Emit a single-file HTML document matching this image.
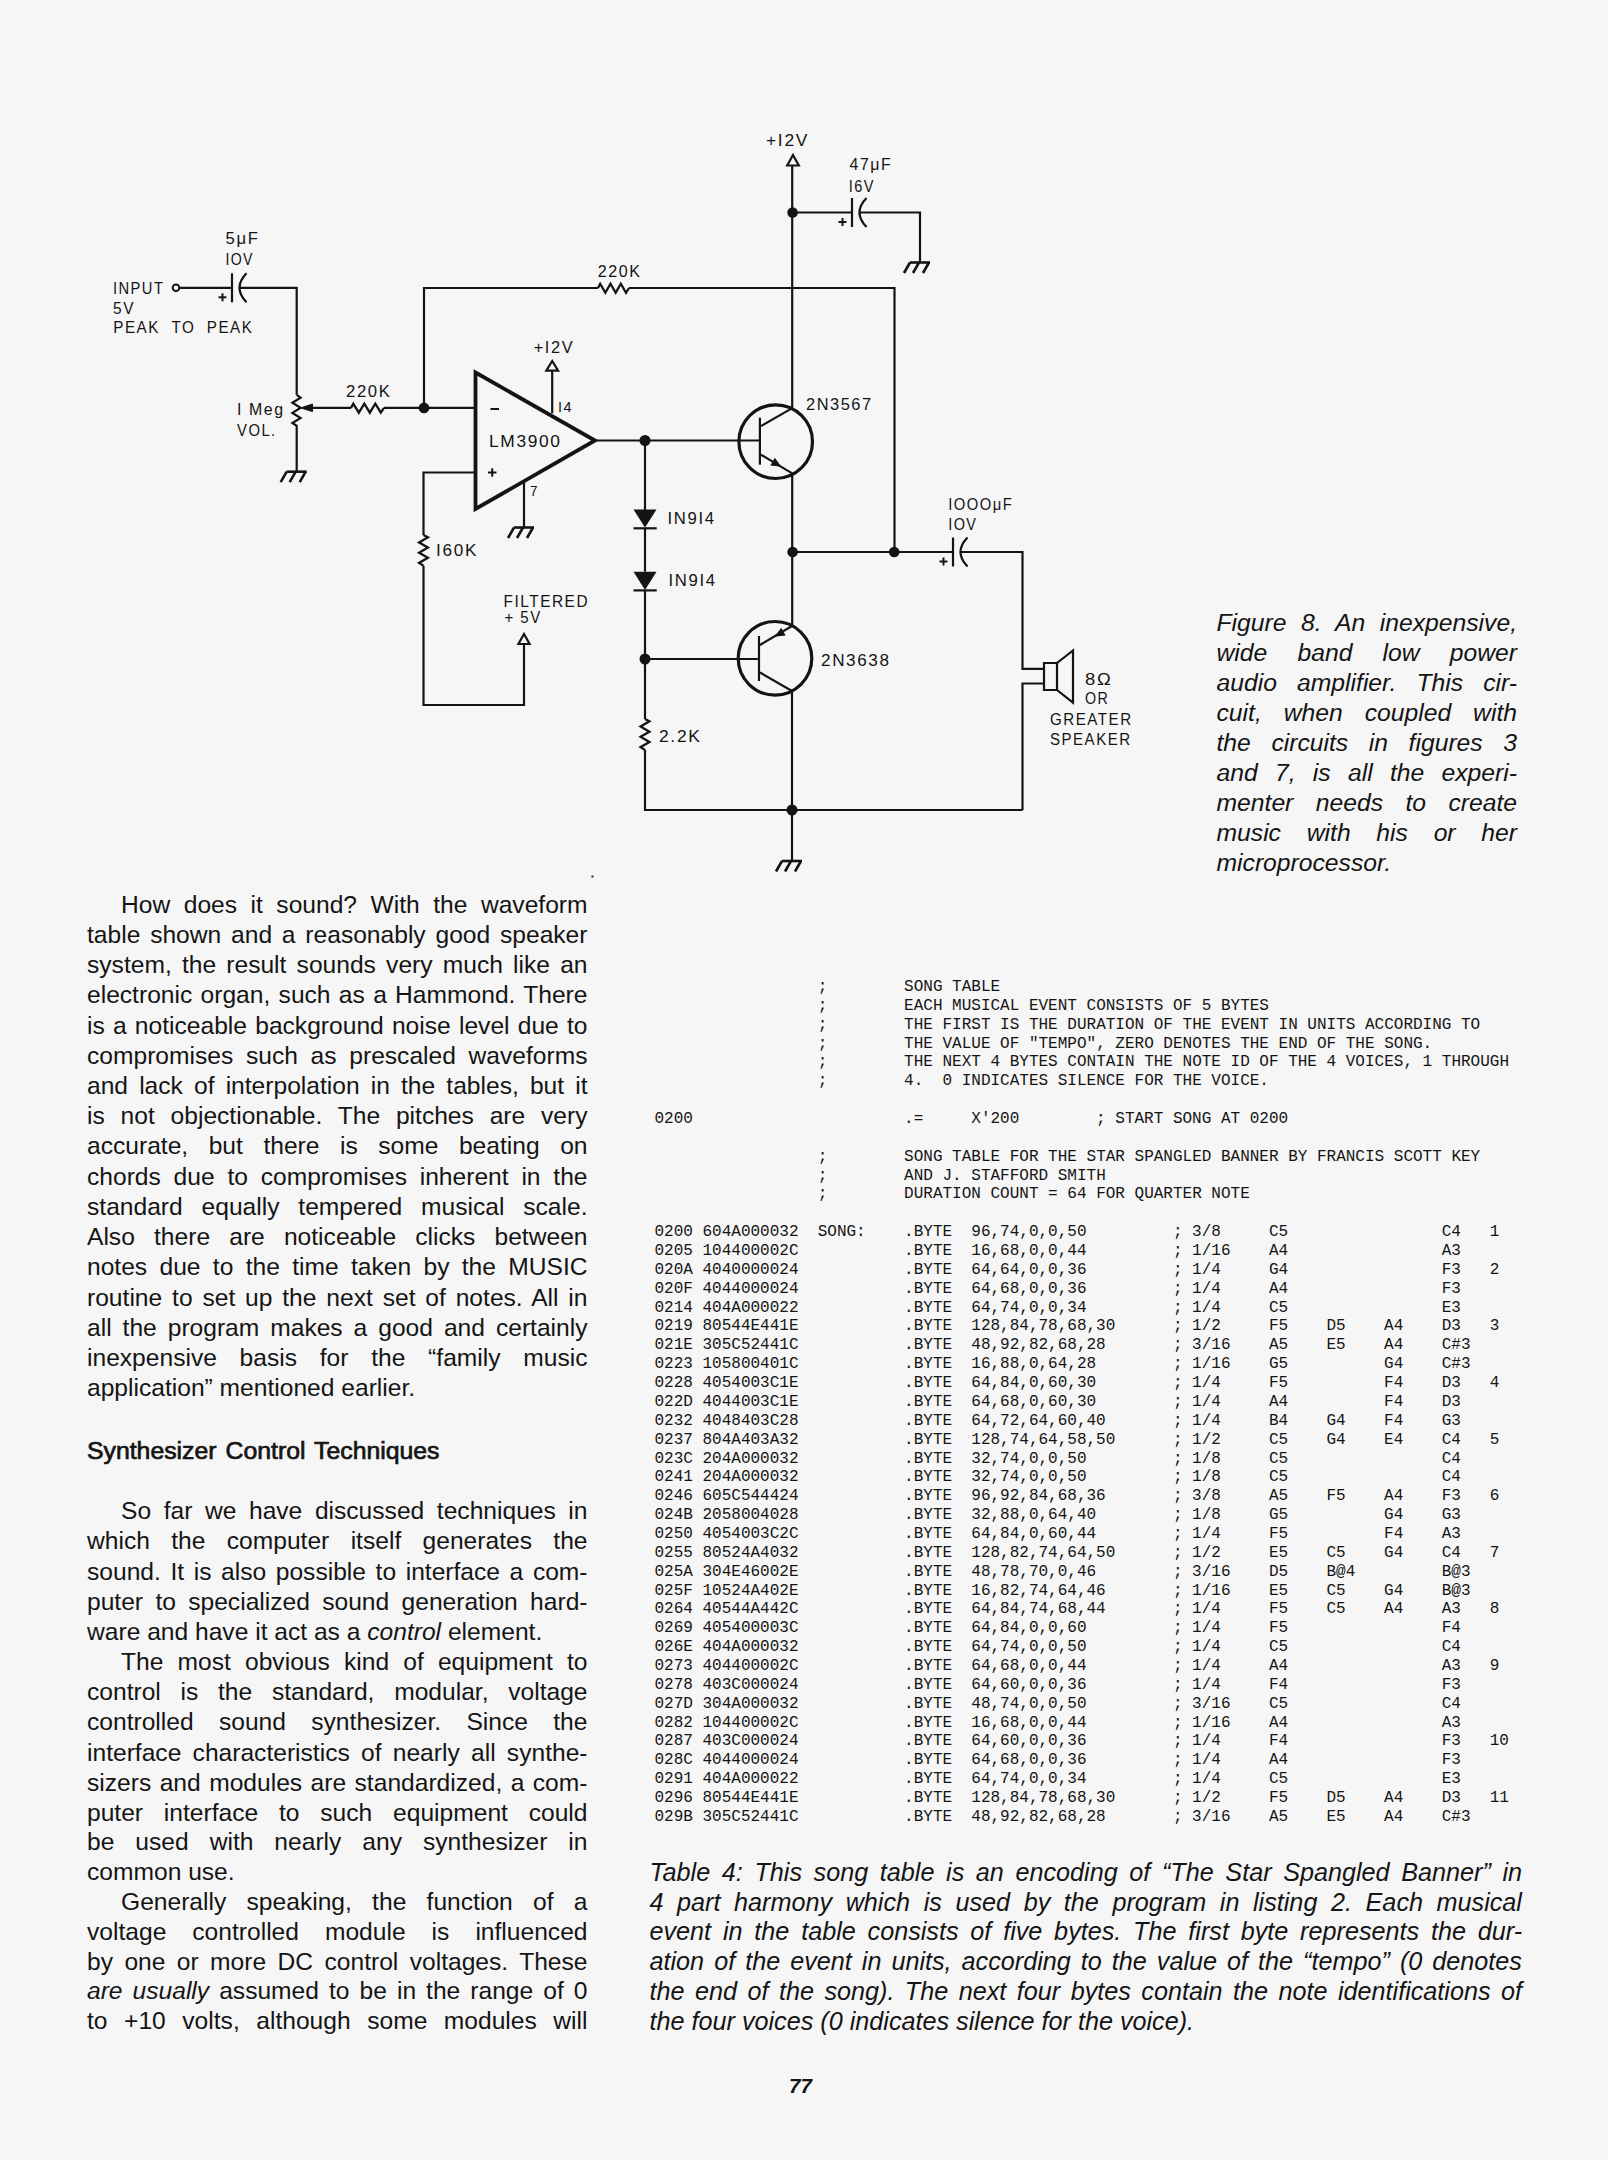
<!DOCTYPE html>
<html><head><meta charset="utf-8"><title>page 77</title>
<style>
html,body{margin:0;padding:0;}
body{width:1608px;height:2160px;background:#f6f6f6;position:relative;overflow:hidden;color:#141414;font-family:'Liberation Sans', sans-serif;}
.ln{position:absolute;white-space:pre;}
svg{position:absolute;left:0;top:0;}
.lab text{font-family:'Liberation Sans', sans-serif;fill:#141414;}
.tab text{font-family:'Liberation Mono', monospace;font-size:16px;fill:#141414;white-space:pre;}
.pg{position:absolute;left:789px;top:2073.5px;font-size:20.5px;font-weight:bold;font-style:italic;line-height:24px;}
</style></head><body>
<svg width="1608" height="2160" viewBox="0 0 1608 2160">
<g class="circ">
<circle cx="176" cy="287.8" r="3.3" fill="none" stroke="#141414" stroke-width="2"/>
<path d="M179.3,287.8 L232,287.8" fill="none" stroke="#141414" stroke-width="2.2" stroke-linejoin="miter" stroke-linecap="butt"/>
<path d="M232,273.3 L232,302.3" fill="none" stroke="#141414" stroke-width="2.2" stroke-linejoin="miter" stroke-linecap="butt"/><path d="M246.5,273.3 Q232.5,287.8 246.5,302.3" fill="none" stroke="#141414" stroke-width="2.2"/><path d="M218.5,297.3 L226.5,297.3" fill="none" stroke="#141414" stroke-width="2" stroke-linejoin="miter" stroke-linecap="butt"/><path d="M222.5,293.3 L222.5,301.3" fill="none" stroke="#141414" stroke-width="2" stroke-linejoin="miter" stroke-linecap="butt"/>
<path d="M239,287.8 L296.7,287.8 L296.7,394.8" fill="none" stroke="#141414" stroke-width="2.2" stroke-linejoin="miter" stroke-linecap="butt"/>
<path d="M296.7,394.8 L300.6,397.6 L292.4,402.7 L300.6,407.7 L292.4,412.9 L300.6,418 L292.4,423 L296.7,425.8 L296.7,471.7" fill="none" stroke="#141414" stroke-width="2.2" stroke-linejoin="miter" stroke-linecap="butt"/>
<path d="M300.8,407.9 L312.5,404 L312.5,411.6 Z" fill="#141414" stroke="#141414" stroke-width="1"/>
<path d="M312,407.9 L351,407.9" fill="none" stroke="#141414" stroke-width="2.2" stroke-linejoin="miter" stroke-linecap="butt"/>
<path d="M351,407.9 L353.31,403.7 L358.81,412.7 L364.31,403.7 L369.81,412.7 L375.31,403.7 L380.81,412.7 L384,407.9" fill="none" stroke="#141414" stroke-width="2.3" stroke-linejoin="miter" stroke-linecap="butt"/>
<path d="M384,407.9 L475,407.9" fill="none" stroke="#141414" stroke-width="2.2" stroke-linejoin="miter" stroke-linecap="butt"/>
<path d="M286.7,471.7 L306.7,471.7" fill="none" stroke="#141414" stroke-width="2.6" stroke-linejoin="miter" stroke-linecap="butt"/><path d="M286.7,471.7 L280.7,482.2" fill="none" stroke="#141414" stroke-width="2.6" stroke-linejoin="miter" stroke-linecap="butt"/><path d="M295.7,471.7 L289.7,482.2" fill="none" stroke="#141414" stroke-width="2.6" stroke-linejoin="miter" stroke-linecap="butt"/><path d="M305.7,471.7 L299.7,482.2" fill="none" stroke="#141414" stroke-width="2.6" stroke-linejoin="miter" stroke-linecap="butt"/>
<circle cx="424" cy="407.9" r="5.3" fill="#141414"/>
<path d="M424,407.9 L424,288 L598,288" fill="none" stroke="#141414" stroke-width="2.2" stroke-linejoin="miter" stroke-linecap="butt"/>
<path d="M598,288 L600.17,283.8 L605.3366666666667,292.8 L610.5033333333333,283.8 L615.67,292.8 L620.8366666666667,283.8 L626.0033333333333,292.8 L629,288" fill="none" stroke="#141414" stroke-width="2.3" stroke-linejoin="miter" stroke-linecap="butt"/>
<path d="M629,288 L894.5,288 L894.5,552" fill="none" stroke="#141414" stroke-width="2.2" stroke-linejoin="miter" stroke-linecap="butt"/>
<path d="M475.5,372.5 L595,440.5 L475.5,509 Z" fill="none" stroke="#141414" stroke-width="3.8" stroke-linejoin="miter"/>
<path d="M490.5,409 L499,409" fill="none" stroke="#141414" stroke-width="2" stroke-linejoin="miter" stroke-linecap="butt"/>
<path d="M488,472.5 L496.5,472.5" fill="none" stroke="#141414" stroke-width="2" stroke-linejoin="miter" stroke-linecap="butt"/><path d="M492.2,468.3 L492.2,476.7" fill="none" stroke="#141414" stroke-width="2" stroke-linejoin="miter" stroke-linecap="butt"/>
<path d="M552.2,413.3 L552.2,370.6" fill="none" stroke="#141414" stroke-width="2.2" stroke-linejoin="miter" stroke-linecap="butt"/>
<path d="M552.2,361 L558.1,370.6 L546.3000000000001,370.6 Z" fill="none" stroke="#141414" stroke-width="2.2" stroke-linejoin="miter"/>
<path d="M524,481.5 L524,527.5" fill="none" stroke="#141414" stroke-width="2.2" stroke-linejoin="miter" stroke-linecap="butt"/>
<path d="M514,527.5 L534,527.5" fill="none" stroke="#141414" stroke-width="2.6" stroke-linejoin="miter" stroke-linecap="butt"/><path d="M514,527.5 L508,538.0" fill="none" stroke="#141414" stroke-width="2.6" stroke-linejoin="miter" stroke-linecap="butt"/><path d="M523,527.5 L517,538.0" fill="none" stroke="#141414" stroke-width="2.6" stroke-linejoin="miter" stroke-linecap="butt"/><path d="M533,527.5 L527,538.0" fill="none" stroke="#141414" stroke-width="2.6" stroke-linejoin="miter" stroke-linecap="butt"/>
<path d="M475,472.5 L423.5,472.5 L423.5,535" fill="none" stroke="#141414" stroke-width="2.2" stroke-linejoin="miter" stroke-linecap="butt"/>
<path d="M423.5,535 L427.9,537.3025 L419.1,542.4191666666667 L427.9,547.5358333333334 L419.1,552.6525 L427.9,557.7691666666667 L419.1,562.8858333333334 L423.5,565.7" fill="none" stroke="#141414" stroke-width="2.3" stroke-linejoin="miter" stroke-linecap="butt"/>
<path d="M423.5,565.7 L423.5,705 L524,705 L524,644" fill="none" stroke="#141414" stroke-width="2.2" stroke-linejoin="miter" stroke-linecap="butt"/>
<path d="M524,634 L529.6,644 L518.4,644 Z" fill="none" stroke="#141414" stroke-width="2.2" stroke-linejoin="miter"/>
<path d="M595,440.5 L760,440.5" fill="none" stroke="#141414" stroke-width="2.2" stroke-linejoin="miter" stroke-linecap="butt"/>
<circle cx="645" cy="440.5" r="5.5" fill="#141414"/>
<path d="M645,440.5 L645,510" fill="none" stroke="#141414" stroke-width="2.2" stroke-linejoin="miter" stroke-linecap="butt"/>
<path d="M633.5,509.6 L656.5,509.6 L645,527.5 Z" fill="#141414"/>
<path d="M633.5,528.3 L656.7,528.3" fill="none" stroke="#141414" stroke-width="2.2" stroke-linejoin="miter" stroke-linecap="butt"/>
<path d="M645,528.3 L645,571.7" fill="none" stroke="#141414" stroke-width="2.2" stroke-linejoin="miter" stroke-linecap="butt"/>
<path d="M633.5,571.7 L656.5,571.7 L645,590 Z" fill="#141414"/>
<path d="M633.5,590.4 L656.7,590.4" fill="none" stroke="#141414" stroke-width="2.2" stroke-linejoin="miter" stroke-linecap="butt"/>
<path d="M645,590.4 L645,719" fill="none" stroke="#141414" stroke-width="2.2" stroke-linejoin="miter" stroke-linecap="butt"/>
<path d="M645,719 L649.4,721.325 L640.6,726.4916666666667 L649.4,731.6583333333333 L640.6,736.825 L649.4,741.9916666666667 L640.6,747.1583333333333 L645,750" fill="none" stroke="#141414" stroke-width="2.3" stroke-linejoin="miter" stroke-linecap="butt"/>
<path d="M645,750 L645,810 L1022.5,810" fill="none" stroke="#141414" stroke-width="2.2" stroke-linejoin="miter" stroke-linecap="butt"/>
<circle cx="645" cy="659" r="5.5" fill="#141414"/>
<path d="M645,659 L759,659" fill="none" stroke="#141414" stroke-width="2.2" stroke-linejoin="miter" stroke-linecap="butt"/>
<circle cx="775.7" cy="441.7" r="36.8" fill="none" stroke="#141414" stroke-width="3.2"/>
<path d="M759.9,417.7 L759.9,464.7" fill="none" stroke="#141414" stroke-width="2.2" stroke-linejoin="miter" stroke-linecap="butt"/>
<path d="M761,426.1 L792.2,408.1" fill="none" stroke="#141414" stroke-width="2.2" stroke-linejoin="miter" stroke-linecap="butt"/>
<path d="M761,454.7 L792.2,473.4" fill="none" stroke="#141414" stroke-width="2.2" stroke-linejoin="miter" stroke-linecap="butt"/>
<path d="M780,466 L771.3,464.9 L774.9,458.9 Z" fill="#141414" stroke="#141414" stroke-width="1.2"/>
<path d="M792.2,408.1 L792.2,165" fill="none" stroke="#141414" stroke-width="2.2" stroke-linejoin="miter" stroke-linecap="butt"/>
<path d="M793,155 L798.8,165.5 L787.2,165.5 Z" fill="none" stroke="#141414" stroke-width="2.2" stroke-linejoin="miter"/>
<circle cx="792.6" cy="212.5" r="5.3" fill="#141414"/>
<path d="M792.6,212.5 L852,212.5" fill="none" stroke="#141414" stroke-width="2.2" stroke-linejoin="miter" stroke-linecap="butt"/>
<path d="M852,198.0 L852,227.0" fill="none" stroke="#141414" stroke-width="2.2" stroke-linejoin="miter" stroke-linecap="butt"/><path d="M866.5,198.0 Q852.5,212.5 866.5,227.0" fill="none" stroke="#141414" stroke-width="2.2"/><path d="M838.5,222.0 L846.5,222.0" fill="none" stroke="#141414" stroke-width="2" stroke-linejoin="miter" stroke-linecap="butt"/><path d="M842.5,218.0 L842.5,226.0" fill="none" stroke="#141414" stroke-width="2" stroke-linejoin="miter" stroke-linecap="butt"/>
<path d="M859,212.5 L920,212.5 L920,262.5" fill="none" stroke="#141414" stroke-width="2.2" stroke-linejoin="miter" stroke-linecap="butt"/>
<path d="M910,262.5 L930,262.5" fill="none" stroke="#141414" stroke-width="2.6" stroke-linejoin="miter" stroke-linecap="butt"/><path d="M910,262.5 L904,273.0" fill="none" stroke="#141414" stroke-width="2.6" stroke-linejoin="miter" stroke-linecap="butt"/><path d="M919,262.5 L913,273.0" fill="none" stroke="#141414" stroke-width="2.6" stroke-linejoin="miter" stroke-linecap="butt"/><path d="M929,262.5 L923,273.0" fill="none" stroke="#141414" stroke-width="2.6" stroke-linejoin="miter" stroke-linecap="butt"/>
<path d="M792.2,473.4 L792.2,626" fill="none" stroke="#141414" stroke-width="2.2" stroke-linejoin="miter" stroke-linecap="butt"/>
<circle cx="792.6" cy="552" r="5.3" fill="#141414"/>
<circle cx="894.2" cy="552" r="5.3" fill="#141414"/>
<path d="M792.6,552 L953,552" fill="none" stroke="#141414" stroke-width="2.2" stroke-linejoin="miter" stroke-linecap="butt"/>
<path d="M953,537.5 L953,566.5" fill="none" stroke="#141414" stroke-width="2.2" stroke-linejoin="miter" stroke-linecap="butt"/><path d="M967.5,537.5 Q953.5,552 967.5,566.5" fill="none" stroke="#141414" stroke-width="2.2"/><path d="M939.5,561.5 L947.5,561.5" fill="none" stroke="#141414" stroke-width="2" stroke-linejoin="miter" stroke-linecap="butt"/><path d="M943.5,557.5 L943.5,565.5" fill="none" stroke="#141414" stroke-width="2" stroke-linejoin="miter" stroke-linecap="butt"/>
<path d="M960,552 L1022.5,552 L1022.5,668.8 L1044,668.8" fill="none" stroke="#141414" stroke-width="2.2" stroke-linejoin="miter" stroke-linecap="butt"/>
<path d="M1044,663 L1057,663 L1057,690 L1044,690 Z" fill="none" stroke="#141414" stroke-width="2.2"/>
<path d="M1057,663 L1073,650.5 L1073,702.7 L1057,690" fill="none" stroke="#141414" stroke-width="2.2"/>
<path d="M1044,683.5 L1022.5,683.5 L1022.5,810" fill="none" stroke="#141414" stroke-width="2.2" stroke-linejoin="miter" stroke-linecap="butt"/>
<circle cx="775" cy="658.3" r="36.8" fill="none" stroke="#141414" stroke-width="3.2"/>
<path d="M759,636 L759,681" fill="none" stroke="#141414" stroke-width="2.2" stroke-linejoin="miter" stroke-linecap="butt"/>
<path d="M760,645 L792,626" fill="none" stroke="#141414" stroke-width="2.2" stroke-linejoin="miter" stroke-linecap="butt"/>
<path d="M776,636 L784.7,634.9 L781.1,628.9 Z" fill="#141414" stroke="#141414" stroke-width="1.2"/>
<path d="M760,672.5 L792,691" fill="none" stroke="#141414" stroke-width="2.2" stroke-linejoin="miter" stroke-linecap="butt"/>
<path d="M792,691 L792,861" fill="none" stroke="#141414" stroke-width="2.2" stroke-linejoin="miter" stroke-linecap="butt"/>
<circle cx="792" cy="810" r="5.5" fill="#141414"/>
<path d="M782,861 L802,861" fill="none" stroke="#141414" stroke-width="2.6" stroke-linejoin="miter" stroke-linecap="butt"/><path d="M782,861 L776,871.5" fill="none" stroke="#141414" stroke-width="2.6" stroke-linejoin="miter" stroke-linecap="butt"/><path d="M791,861 L785,871.5" fill="none" stroke="#141414" stroke-width="2.6" stroke-linejoin="miter" stroke-linecap="butt"/><path d="M801,861 L795,871.5" fill="none" stroke="#141414" stroke-width="2.6" stroke-linejoin="miter" stroke-linecap="butt"/>
<circle cx="592.5" cy="876.5" r="1.3" fill="#555"/>
</g>
<g class="lab">
<text x="225.6" y="244.4" font-size="16.5" letter-spacing="1.6" textLength="33.9" lengthAdjust="spacingAndGlyphs">5μF</text>
<text x="225.4" y="264.9" font-size="16.5" letter-spacing="1.6" textLength="28.5" lengthAdjust="spacingAndGlyphs">IOV</text>
<text x="113" y="293.6" font-size="16.2" letter-spacing="1.6" textLength="51.3" lengthAdjust="spacingAndGlyphs">INPUT</text>
<text x="113" y="313.5" font-size="16" letter-spacing="1.6" textLength="22.0" lengthAdjust="spacingAndGlyphs">5V</text>
<text x="113.3" y="333.4" font-size="16" letter-spacing="1.6" textLength="140.1" lengthAdjust="spacingAndGlyphs">PEAK  TO  PEAK</text>
<text x="237.1" y="415.0" font-size="16.3" letter-spacing="1.6" textLength="47.6" lengthAdjust="spacingAndGlyphs">I Meg</text>
<text x="237.1" y="435.6" font-size="16.3" letter-spacing="1.6" textLength="39.6" lengthAdjust="spacingAndGlyphs">VOL.</text>
<text x="346" y="396.8" font-size="16.3" letter-spacing="1.6" textLength="45.6" lengthAdjust="spacingAndGlyphs">220K</text>
<text x="597.7" y="276.8" font-size="16.3" letter-spacing="1.6" textLength="43.8" lengthAdjust="spacingAndGlyphs">220K</text>
<text x="533.7" y="353.0" font-size="16" letter-spacing="1.6" textLength="40.6" lengthAdjust="spacingAndGlyphs">+I2V</text>
<text x="489" y="447.2" font-size="17" letter-spacing="1.6" textLength="72.6" lengthAdjust="spacingAndGlyphs">LM3900</text>
<text x="558" y="411.8" font-size="15" letter-spacing="1.6" textLength="15.1" lengthAdjust="spacingAndGlyphs">I4</text>
<text x="530" y="495.6" font-size="15" letter-spacing="0" textLength="7.5" lengthAdjust="spacingAndGlyphs">7</text>
<text x="667.5" y="523.6" font-size="16.5" letter-spacing="1.6" textLength="48.1" lengthAdjust="spacingAndGlyphs">IN9I4</text>
<text x="668.5" y="585.6" font-size="16.5" letter-spacing="1.6" textLength="48.1" lengthAdjust="spacingAndGlyphs">IN9I4</text>
<text x="436" y="556.0" font-size="16.3" letter-spacing="1.6" textLength="42.1" lengthAdjust="spacingAndGlyphs">I60K</text>
<text x="503.5" y="607.4" font-size="16.3" letter-spacing="1.6" textLength="85.6" lengthAdjust="spacingAndGlyphs">FILTERED</text>
<text x="504.5" y="623.2" font-size="16.3" letter-spacing="1.6" textLength="37.1" lengthAdjust="spacingAndGlyphs">+ 5V</text>
<text x="821" y="665.6" font-size="17" letter-spacing="1.6" textLength="69.6" lengthAdjust="spacingAndGlyphs">2N3638</text>
<text x="806" y="409.6" font-size="17" letter-spacing="1.6" textLength="66.6" lengthAdjust="spacingAndGlyphs">2N3567</text>
<text x="659" y="742.0" font-size="16.3" letter-spacing="1.6" textLength="42.6" lengthAdjust="spacingAndGlyphs">2.2K</text>
<text x="766" y="145.8" font-size="16.3" letter-spacing="1.6" textLength="43.1" lengthAdjust="spacingAndGlyphs">+I2V</text>
<text x="849.5" y="169.8" font-size="16.5" letter-spacing="1.6" textLength="42.7" lengthAdjust="spacingAndGlyphs">47μF</text>
<text x="848.8" y="192.0" font-size="16.8" letter-spacing="1.6" textLength="26.0" lengthAdjust="spacingAndGlyphs">I6V</text>
<text x="948.3" y="509.9" font-size="16.5" letter-spacing="1.6" textLength="64.9" lengthAdjust="spacingAndGlyphs">IOOOμF</text>
<text x="948.2" y="529.8" font-size="16.3" letter-spacing="1.6" textLength="29.2" lengthAdjust="spacingAndGlyphs">IOV</text>
<text x="1085" y="684.6" font-size="16.5" letter-spacing="1.6" textLength="27.6" lengthAdjust="spacingAndGlyphs">8Ω</text>
<text x="1085" y="704.3" font-size="16" letter-spacing="1.6" textLength="24.2" lengthAdjust="spacingAndGlyphs">OR</text>
<text x="1050" y="724.8" font-size="16" letter-spacing="1.6" textLength="82.6" lengthAdjust="spacingAndGlyphs">GREATER</text>
<text x="1050" y="745.2" font-size="16" letter-spacing="1.6" textLength="81.6" lengthAdjust="spacingAndGlyphs">SPEAKER</text>
</g>
<g class="tab">
<text x="817.7" y="991.00">;</text>
<text x="904.1" y="991.00">SONG TABLE</text>
<text x="817.7" y="1009.86">;</text>
<text x="904.1" y="1009.86">EACH MUSICAL EVENT CONSISTS OF 5 BYTES</text>
<text x="817.7" y="1028.72">;</text>
<text x="904.1" y="1028.72">THE FIRST IS THE DURATION OF THE EVENT IN UNITS ACCORDING TO</text>
<text x="817.7" y="1047.58">;</text>
<text x="904.1" y="1047.58">THE VALUE OF &quot;TEMPO&quot;, ZERO DENOTES THE END OF THE SONG.</text>
<text x="817.7" y="1066.44">;</text>
<text x="904.1" y="1066.44">THE NEXT 4 BYTES CONTAIN THE NOTE ID OF THE 4 VOICES, 1 THROUGH</text>
<text x="817.7" y="1085.30">;</text>
<text x="904.1" y="1085.30">4.  0 INDICATES SILENCE FOR THE VOICE.</text>
<text x="817.7" y="1160.74">;</text>
<text x="904.1" y="1160.74">SONG TABLE FOR THE STAR SPANGLED BANNER BY FRANCIS SCOTT KEY</text>
<text x="817.7" y="1179.60">;</text>
<text x="904.1" y="1179.60">AND J. STAFFORD SMITH</text>
<text x="817.7" y="1198.46">;</text>
<text x="904.1" y="1198.46">DURATION COUNT = 64 FOR QUARTER NOTE</text>
<text x="654.5" y="1123.02">0200</text>
<text x="904.1" y="1123.02">.=</text>
<text x="971.3" y="1123.02">X'200</text>
<text x="1096.1" y="1123.02">; START SONG AT 0200</text>
<text x="654.5" y="1236.18">0200 604A000032</text>
<text x="817.7" y="1236.18">SONG:</text>
<text x="904.1" y="1236.18">.BYTE</text>
<text x="971.3" y="1236.18">96,74,0,0,50</text>
<text x="1172.9" y="1236.18">;</text>
<text x="1192.1" y="1236.18">3/8</text>
<text x="1268.9" y="1236.18">C5</text>
<text x="1441.7" y="1236.18">C4</text>
<text x="1489.7" y="1236.18">1</text>
<text x="654.5" y="1255.04">0205 104400002C</text>
<text x="904.1" y="1255.04">.BYTE</text>
<text x="971.3" y="1255.04">16,68,0,0,44</text>
<text x="1172.9" y="1255.04">;</text>
<text x="1192.1" y="1255.04">1/16</text>
<text x="1268.9" y="1255.04">A4</text>
<text x="1441.7" y="1255.04">A3</text>
<text x="654.5" y="1273.90">020A 4040000024</text>
<text x="904.1" y="1273.90">.BYTE</text>
<text x="971.3" y="1273.90">64,64,0,0,36</text>
<text x="1172.9" y="1273.90">;</text>
<text x="1192.1" y="1273.90">1/4</text>
<text x="1268.9" y="1273.90">G4</text>
<text x="1441.7" y="1273.90">F3</text>
<text x="1489.7" y="1273.90">2</text>
<text x="654.5" y="1292.76">020F 4044000024</text>
<text x="904.1" y="1292.76">.BYTE</text>
<text x="971.3" y="1292.76">64,68,0,0,36</text>
<text x="1172.9" y="1292.76">;</text>
<text x="1192.1" y="1292.76">1/4</text>
<text x="1268.9" y="1292.76">A4</text>
<text x="1441.7" y="1292.76">F3</text>
<text x="654.5" y="1311.62">0214 404A000022</text>
<text x="904.1" y="1311.62">.BYTE</text>
<text x="971.3" y="1311.62">64,74,0,0,34</text>
<text x="1172.9" y="1311.62">;</text>
<text x="1192.1" y="1311.62">1/4</text>
<text x="1268.9" y="1311.62">C5</text>
<text x="1441.7" y="1311.62">E3</text>
<text x="654.5" y="1330.48">0219 80544E441E</text>
<text x="904.1" y="1330.48">.BYTE</text>
<text x="971.3" y="1330.48">128,84,78,68,30</text>
<text x="1172.9" y="1330.48">;</text>
<text x="1192.1" y="1330.48">1/2</text>
<text x="1268.9" y="1330.48">F5</text>
<text x="1326.5" y="1330.48">D5</text>
<text x="1384.1" y="1330.48">A4</text>
<text x="1441.7" y="1330.48">D3</text>
<text x="1489.7" y="1330.48">3</text>
<text x="654.5" y="1349.34">021E 305C52441C</text>
<text x="904.1" y="1349.34">.BYTE</text>
<text x="971.3" y="1349.34">48,92,82,68,28</text>
<text x="1172.9" y="1349.34">;</text>
<text x="1192.1" y="1349.34">3/16</text>
<text x="1268.9" y="1349.34">A5</text>
<text x="1326.5" y="1349.34">E5</text>
<text x="1384.1" y="1349.34">A4</text>
<text x="1441.7" y="1349.34">C#3</text>
<text x="654.5" y="1368.20">0223 105800401C</text>
<text x="904.1" y="1368.20">.BYTE</text>
<text x="971.3" y="1368.20">16,88,0,64,28</text>
<text x="1172.9" y="1368.20">;</text>
<text x="1192.1" y="1368.20">1/16</text>
<text x="1268.9" y="1368.20">G5</text>
<text x="1384.1" y="1368.20">G4</text>
<text x="1441.7" y="1368.20">C#3</text>
<text x="654.5" y="1387.06">0228 4054003C1E</text>
<text x="904.1" y="1387.06">.BYTE</text>
<text x="971.3" y="1387.06">64,84,0,60,30</text>
<text x="1172.9" y="1387.06">;</text>
<text x="1192.1" y="1387.06">1/4</text>
<text x="1268.9" y="1387.06">F5</text>
<text x="1384.1" y="1387.06">F4</text>
<text x="1441.7" y="1387.06">D3</text>
<text x="1489.7" y="1387.06">4</text>
<text x="654.5" y="1405.92">022D 4044003C1E</text>
<text x="904.1" y="1405.92">.BYTE</text>
<text x="971.3" y="1405.92">64,68,0,60,30</text>
<text x="1172.9" y="1405.92">;</text>
<text x="1192.1" y="1405.92">1/4</text>
<text x="1268.9" y="1405.92">A4</text>
<text x="1384.1" y="1405.92">F4</text>
<text x="1441.7" y="1405.92">D3</text>
<text x="654.5" y="1424.78">0232 4048403C28</text>
<text x="904.1" y="1424.78">.BYTE</text>
<text x="971.3" y="1424.78">64,72,64,60,40</text>
<text x="1172.9" y="1424.78">;</text>
<text x="1192.1" y="1424.78">1/4</text>
<text x="1268.9" y="1424.78">B4</text>
<text x="1326.5" y="1424.78">G4</text>
<text x="1384.1" y="1424.78">F4</text>
<text x="1441.7" y="1424.78">G3</text>
<text x="654.5" y="1443.64">0237 804A403A32</text>
<text x="904.1" y="1443.64">.BYTE</text>
<text x="971.3" y="1443.64">128,74,64,58,50</text>
<text x="1172.9" y="1443.64">;</text>
<text x="1192.1" y="1443.64">1/2</text>
<text x="1268.9" y="1443.64">C5</text>
<text x="1326.5" y="1443.64">G4</text>
<text x="1384.1" y="1443.64">E4</text>
<text x="1441.7" y="1443.64">C4</text>
<text x="1489.7" y="1443.64">5</text>
<text x="654.5" y="1462.50">023C 204A000032</text>
<text x="904.1" y="1462.50">.BYTE</text>
<text x="971.3" y="1462.50">32,74,0,0,50</text>
<text x="1172.9" y="1462.50">;</text>
<text x="1192.1" y="1462.50">1/8</text>
<text x="1268.9" y="1462.50">C5</text>
<text x="1441.7" y="1462.50">C4</text>
<text x="654.5" y="1481.36">0241 204A000032</text>
<text x="904.1" y="1481.36">.BYTE</text>
<text x="971.3" y="1481.36">32,74,0,0,50</text>
<text x="1172.9" y="1481.36">;</text>
<text x="1192.1" y="1481.36">1/8</text>
<text x="1268.9" y="1481.36">C5</text>
<text x="1441.7" y="1481.36">C4</text>
<text x="654.5" y="1500.22">0246 605C544424</text>
<text x="904.1" y="1500.22">.BYTE</text>
<text x="971.3" y="1500.22">96,92,84,68,36</text>
<text x="1172.9" y="1500.22">;</text>
<text x="1192.1" y="1500.22">3/8</text>
<text x="1268.9" y="1500.22">A5</text>
<text x="1326.5" y="1500.22">F5</text>
<text x="1384.1" y="1500.22">A4</text>
<text x="1441.7" y="1500.22">F3</text>
<text x="1489.7" y="1500.22">6</text>
<text x="654.5" y="1519.08">024B 2058004028</text>
<text x="904.1" y="1519.08">.BYTE</text>
<text x="971.3" y="1519.08">32,88,0,64,40</text>
<text x="1172.9" y="1519.08">;</text>
<text x="1192.1" y="1519.08">1/8</text>
<text x="1268.9" y="1519.08">G5</text>
<text x="1384.1" y="1519.08">G4</text>
<text x="1441.7" y="1519.08">G3</text>
<text x="654.5" y="1537.94">0250 4054003C2C</text>
<text x="904.1" y="1537.94">.BYTE</text>
<text x="971.3" y="1537.94">64,84,0,60,44</text>
<text x="1172.9" y="1537.94">;</text>
<text x="1192.1" y="1537.94">1/4</text>
<text x="1268.9" y="1537.94">F5</text>
<text x="1384.1" y="1537.94">F4</text>
<text x="1441.7" y="1537.94">A3</text>
<text x="654.5" y="1556.80">0255 80524A4032</text>
<text x="904.1" y="1556.80">.BYTE</text>
<text x="971.3" y="1556.80">128,82,74,64,50</text>
<text x="1172.9" y="1556.80">;</text>
<text x="1192.1" y="1556.80">1/2</text>
<text x="1268.9" y="1556.80">E5</text>
<text x="1326.5" y="1556.80">C5</text>
<text x="1384.1" y="1556.80">G4</text>
<text x="1441.7" y="1556.80">C4</text>
<text x="1489.7" y="1556.80">7</text>
<text x="654.5" y="1575.66">025A 304E46002E</text>
<text x="904.1" y="1575.66">.BYTE</text>
<text x="971.3" y="1575.66">48,78,70,0,46</text>
<text x="1172.9" y="1575.66">;</text>
<text x="1192.1" y="1575.66">3/16</text>
<text x="1268.9" y="1575.66">D5</text>
<text x="1326.5" y="1575.66">B@4</text>
<text x="1441.7" y="1575.66">B@3</text>
<text x="654.5" y="1594.52">025F 10524A402E</text>
<text x="904.1" y="1594.52">.BYTE</text>
<text x="971.3" y="1594.52">16,82,74,64,46</text>
<text x="1172.9" y="1594.52">;</text>
<text x="1192.1" y="1594.52">1/16</text>
<text x="1268.9" y="1594.52">E5</text>
<text x="1326.5" y="1594.52">C5</text>
<text x="1384.1" y="1594.52">G4</text>
<text x="1441.7" y="1594.52">B@3</text>
<text x="654.5" y="1613.38">0264 40544A442C</text>
<text x="904.1" y="1613.38">.BYTE</text>
<text x="971.3" y="1613.38">64,84,74,68,44</text>
<text x="1172.9" y="1613.38">;</text>
<text x="1192.1" y="1613.38">1/4</text>
<text x="1268.9" y="1613.38">F5</text>
<text x="1326.5" y="1613.38">C5</text>
<text x="1384.1" y="1613.38">A4</text>
<text x="1441.7" y="1613.38">A3</text>
<text x="1489.7" y="1613.38">8</text>
<text x="654.5" y="1632.24">0269 405400003C</text>
<text x="904.1" y="1632.24">.BYTE</text>
<text x="971.3" y="1632.24">64,84,0,0,60</text>
<text x="1172.9" y="1632.24">;</text>
<text x="1192.1" y="1632.24">1/4</text>
<text x="1268.9" y="1632.24">F5</text>
<text x="1441.7" y="1632.24">F4</text>
<text x="654.5" y="1651.10">026E 404A000032</text>
<text x="904.1" y="1651.10">.BYTE</text>
<text x="971.3" y="1651.10">64,74,0,0,50</text>
<text x="1172.9" y="1651.10">;</text>
<text x="1192.1" y="1651.10">1/4</text>
<text x="1268.9" y="1651.10">C5</text>
<text x="1441.7" y="1651.10">C4</text>
<text x="654.5" y="1669.96">0273 404400002C</text>
<text x="904.1" y="1669.96">.BYTE</text>
<text x="971.3" y="1669.96">64,68,0,0,44</text>
<text x="1172.9" y="1669.96">;</text>
<text x="1192.1" y="1669.96">1/4</text>
<text x="1268.9" y="1669.96">A4</text>
<text x="1441.7" y="1669.96">A3</text>
<text x="1489.7" y="1669.96">9</text>
<text x="654.5" y="1688.82">0278 403C000024</text>
<text x="904.1" y="1688.82">.BYTE</text>
<text x="971.3" y="1688.82">64,60,0,0,36</text>
<text x="1172.9" y="1688.82">;</text>
<text x="1192.1" y="1688.82">1/4</text>
<text x="1268.9" y="1688.82">F4</text>
<text x="1441.7" y="1688.82">F3</text>
<text x="654.5" y="1707.68">027D 304A000032</text>
<text x="904.1" y="1707.68">.BYTE</text>
<text x="971.3" y="1707.68">48,74,0,0,50</text>
<text x="1172.9" y="1707.68">;</text>
<text x="1192.1" y="1707.68">3/16</text>
<text x="1268.9" y="1707.68">C5</text>
<text x="1441.7" y="1707.68">C4</text>
<text x="654.5" y="1726.54">0282 104400002C</text>
<text x="904.1" y="1726.54">.BYTE</text>
<text x="971.3" y="1726.54">16,68,0,0,44</text>
<text x="1172.9" y="1726.54">;</text>
<text x="1192.1" y="1726.54">1/16</text>
<text x="1268.9" y="1726.54">A4</text>
<text x="1441.7" y="1726.54">A3</text>
<text x="654.5" y="1745.40">0287 403C000024</text>
<text x="904.1" y="1745.40">.BYTE</text>
<text x="971.3" y="1745.40">64,60,0,0,36</text>
<text x="1172.9" y="1745.40">;</text>
<text x="1192.1" y="1745.40">1/4</text>
<text x="1268.9" y="1745.40">F4</text>
<text x="1441.7" y="1745.40">F3</text>
<text x="1489.7" y="1745.40">10</text>
<text x="654.5" y="1764.26">028C 4044000024</text>
<text x="904.1" y="1764.26">.BYTE</text>
<text x="971.3" y="1764.26">64,68,0,0,36</text>
<text x="1172.9" y="1764.26">;</text>
<text x="1192.1" y="1764.26">1/4</text>
<text x="1268.9" y="1764.26">A4</text>
<text x="1441.7" y="1764.26">F3</text>
<text x="654.5" y="1783.12">0291 404A000022</text>
<text x="904.1" y="1783.12">.BYTE</text>
<text x="971.3" y="1783.12">64,74,0,0,34</text>
<text x="1172.9" y="1783.12">;</text>
<text x="1192.1" y="1783.12">1/4</text>
<text x="1268.9" y="1783.12">C5</text>
<text x="1441.7" y="1783.12">E3</text>
<text x="654.5" y="1801.98">0296 80544E441E</text>
<text x="904.1" y="1801.98">.BYTE</text>
<text x="971.3" y="1801.98">128,84,78,68,30</text>
<text x="1172.9" y="1801.98">;</text>
<text x="1192.1" y="1801.98">1/2</text>
<text x="1268.9" y="1801.98">F5</text>
<text x="1326.5" y="1801.98">D5</text>
<text x="1384.1" y="1801.98">A4</text>
<text x="1441.7" y="1801.98">D3</text>
<text x="1489.7" y="1801.98">11</text>
<text x="654.5" y="1820.84">029B 305C52441C</text>
<text x="904.1" y="1820.84">.BYTE</text>
<text x="971.3" y="1820.84">48,92,82,68,28</text>
<text x="1172.9" y="1820.84">;</text>
<text x="1192.1" y="1820.84">3/16</text>
<text x="1268.9" y="1820.84">A5</text>
<text x="1326.5" y="1820.84">E5</text>
<text x="1384.1" y="1820.84">A4</text>
<text x="1441.7" y="1820.84">C#3</text>
</g>
</svg>
<div class='ln' style="left:121px;top:889.70px;font-size:24.6px;line-height:30.75px;word-spacing:6.67px;">How does it sound? With the waveform</div>
<div class='ln' style="left:87px;top:919.92px;font-size:24.6px;line-height:30.75px;word-spacing:2.97px;">table shown and a reasonably good speaker</div>
<div class='ln' style="left:87px;top:950.14px;font-size:24.6px;line-height:30.75px;word-spacing:3.35px;">system, the result sounds very much like an</div>
<div class='ln' style="left:87px;top:980.36px;font-size:24.6px;line-height:30.75px;word-spacing:1.47px;">electronic organ, such as a Hammond. There</div>
<div class='ln' style="left:87px;top:1010.58px;font-size:24.6px;line-height:30.75px;word-spacing:1.38px;">is a noticeable background noise level due to</div>
<div class='ln' style="left:87px;top:1040.80px;font-size:24.6px;line-height:30.75px;word-spacing:5.87px;">compromises such as prescaled waveforms</div>
<div class='ln' style="left:87px;top:1071.02px;font-size:24.6px;line-height:30.75px;word-spacing:4.29px;">and lack of interpolation in the tables, but it</div>
<div class='ln' style="left:87px;top:1101.24px;font-size:24.6px;line-height:30.75px;word-spacing:8.98px;">is not objectionable. The pitches are very</div>
<div class='ln' style="left:87px;top:1131.46px;font-size:24.6px;line-height:30.75px;word-spacing:13.69px;">accurate, but there is some beating on</div>
<div class='ln' style="left:87px;top:1161.68px;font-size:24.6px;line-height:30.75px;word-spacing:5.95px;">chords due to compromises inherent in the</div>
<div class='ln' style="left:87px;top:1191.90px;font-size:24.6px;line-height:30.75px;word-spacing:12.00px;">standard equally tempered musical scale.</div>
<div class='ln' style="left:87px;top:1222.12px;font-size:24.6px;line-height:30.75px;word-spacing:12.33px;">Also there are noticeable clicks between</div>
<div class='ln' style="left:87px;top:1252.34px;font-size:24.6px;line-height:30.75px;word-spacing:5.49px;">notes due to the time taken by the MUSIC</div>
<div class='ln' style="left:87px;top:1282.56px;font-size:24.6px;line-height:30.75px;word-spacing:3.02px;">routine to set up the next set of notes. All in</div>
<div class='ln' style="left:87px;top:1312.78px;font-size:24.6px;line-height:30.75px;word-spacing:4.12px;">all the program makes a good and certainly</div>
<div class='ln' style="left:87px;top:1343.00px;font-size:24.6px;line-height:30.75px;word-spacing:15.90px;">inexpensive basis for the “family music</div>
<div class='ln' style="left:87px;top:1373.22px;font-size:24.6px;line-height:30.75px;">application” mentioned earlier.</div>
<div class='ln' style="left:87px;top:1435.40px;font-size:24.8px;line-height:31.0px;-webkit-text-stroke:0.7px #141414;word-spacing:2.11px;">Synthesizer Control Techniques</div>
<div class='ln' style="left:121px;top:1496.30px;font-size:24.6px;line-height:30.75px;word-spacing:5.75px;">So far we have discussed techniques in</div>
<div class='ln' style="left:87px;top:1526.45px;font-size:24.6px;line-height:30.75px;word-spacing:14.52px;">which the computer itself generates the</div>
<div class='ln' style="left:87px;top:1556.60px;font-size:24.6px;line-height:30.75px;word-spacing:2.76px;">sound. It is also possible to interface a com-</div>
<div class='ln' style="left:87px;top:1586.75px;font-size:24.6px;line-height:30.75px;word-spacing:5.49px;">puter to specialized sound generation hard-</div>
<div class='ln' style="left:87px;top:1616.90px;font-size:24.6px;line-height:30.75px;">ware and have it act as a <i>control</i> element.</div>
<div class='ln' style="left:121px;top:1647.05px;font-size:24.6px;line-height:30.75px;word-spacing:7.34px;">The most obvious kind of equipment to</div>
<div class='ln' style="left:87px;top:1677.20px;font-size:24.6px;line-height:30.75px;word-spacing:12.88px;">control is the standard, modular, voltage</div>
<div class='ln' style="left:87px;top:1707.35px;font-size:24.6px;line-height:30.75px;word-spacing:18.48px;">controlled sound synthesizer. Since the</div>
<div class='ln' style="left:87px;top:1737.90px;font-size:24.6px;line-height:30.75px;word-spacing:4.42px;">interface characteristics of nearly all synthe-</div>
<div class='ln' style="left:87px;top:1767.70px;font-size:24.6px;line-height:30.75px;word-spacing:1.62px;">sizers and modules are standardized, a com-</div>
<div class='ln' style="left:87px;top:1797.50px;font-size:24.6px;line-height:30.75px;word-spacing:13.97px;">puter interface to such equipment could</div>
<div class='ln' style="left:87px;top:1827.30px;font-size:24.6px;line-height:30.75px;word-spacing:14.15px;">be used with nearly any synthesizer in</div>
<div class='ln' style="left:87px;top:1857.10px;font-size:24.6px;line-height:30.75px;">common use.</div>
<div class='ln' style="left:121px;top:1886.90px;font-size:24.6px;line-height:30.75px;word-spacing:13.46px;">Generally speaking, the function of a</div>
<div class='ln' style="left:87px;top:1916.70px;font-size:24.6px;line-height:30.75px;word-spacing:19.17px;">voltage controlled module is influenced</div>
<div class='ln' style="left:87px;top:1946.50px;font-size:24.6px;line-height:30.75px;word-spacing:4.58px;">by one or more DC control voltages. These</div>
<div class='ln' style="left:87px;top:1976.30px;font-size:24.6px;line-height:30.75px;word-spacing:3.20px;"><i>are usually</i> assumed to be in the range of 0</div>
<div class='ln' style="left:87px;top:2006.10px;font-size:24.6px;line-height:30.75px;word-spacing:9.71px;">to +10 volts, although some modules will</div>
<div class='ln' style="left:1216.5px;top:608.00px;font-size:24.7px;line-height:30.88px;font-style:italic;word-spacing:7.61px;">Figure 8. An inexpensive,</div>
<div class='ln' style="left:1216.5px;top:638.00px;font-size:24.7px;line-height:30.88px;font-style:italic;word-spacing:23.31px;">wide band low power</div>
<div class='ln' style="left:1216.5px;top:668.00px;font-size:24.7px;line-height:30.88px;font-style:italic;word-spacing:13.27px;">audio amplifier. This cir-</div>
<div class='ln' style="left:1216.5px;top:698.00px;font-size:24.7px;line-height:30.88px;font-style:italic;word-spacing:15.08px;">cuit, when coupled with</div>
<div class='ln' style="left:1216.5px;top:728.00px;font-size:24.7px;line-height:30.88px;font-style:italic;word-spacing:13.72px;">the circuits in figures 3</div>
<div class='ln' style="left:1216.5px;top:758.00px;font-size:24.7px;line-height:30.88px;font-style:italic;word-spacing:10.42px;">and 7, is all the experi-</div>
<div class='ln' style="left:1216.5px;top:788.00px;font-size:24.7px;line-height:30.88px;font-style:italic;word-spacing:15.54px;">menter needs to create</div>
<div class='ln' style="left:1216.5px;top:818.00px;font-size:24.7px;line-height:30.88px;font-style:italic;word-spacing:18.88px;">music with his or her</div>
<div class='ln' style="left:1216.5px;top:848.00px;font-size:24.7px;line-height:30.88px;font-style:italic;">microprocessor.</div>
<div class='ln' style="left:649.5px;top:1856.91px;font-size:25.2px;line-height:31.5px;font-style:italic;word-spacing:4.61px;">Table 4: This song table is an encoding of “The Star Spangled Banner” in</div>
<div class='ln' style="left:649.5px;top:1886.63px;font-size:25.2px;line-height:31.5px;font-style:italic;word-spacing:6.59px;">4 part harmony which is used by the program in listing 2. Each musical</div>
<div class='ln' style="left:649.5px;top:1916.35px;font-size:25.2px;line-height:31.5px;font-style:italic;word-spacing:4.80px;">event in the table consists of five bytes. The first byte represents the dur-</div>
<div class='ln' style="left:649.5px;top:1946.07px;font-size:25.2px;line-height:31.5px;font-style:italic;word-spacing:3.01px;">ation of the event in units, according to the value of the “tempo” (0 denotes</div>
<div class='ln' style="left:649.5px;top:1975.79px;font-size:25.2px;line-height:31.5px;font-style:italic;word-spacing:3.46px;">the end of the song). The next four bytes contain the note identifications of</div>
<div class='ln' style="left:649.5px;top:2005.51px;font-size:25.2px;line-height:31.5px;font-style:italic;">the four voices (0 indicates silence for the voice).</div>
<div class="pg">77</div>
</body></html>
